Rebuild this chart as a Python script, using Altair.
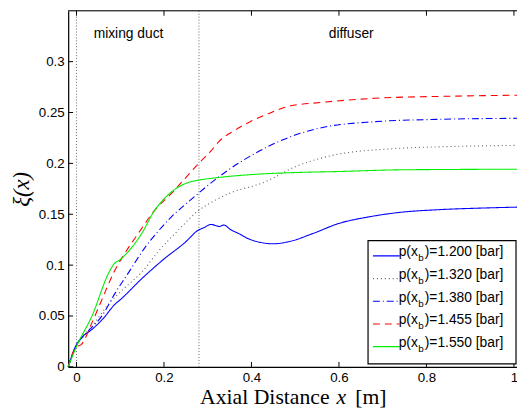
import altair as alt
import pandas as pd

# ---------------- data ----------------
pressures = ["1.200", "1.320", "1.380", "1.455", "1.550"]
colors = ["#0000ff", "#606060", "#0000ff", "#ff0000", "#00ee00"]
dashes = [[1, 0], [1, 3], [7, 3, 1, 3], [7, 5], [1, 0]]

x_1200 = [-0.019, 0.0, 0.01, 0.036, 0.06, 0.089, 0.1, 0.15, 0.2, 0.25, 0.277, 0.292, 0.307, 0.318,
          0.326, 0.337, 0.352, 0.371, 0.39, 0.412, 0.45, 0.487, 0.54, 0.6, 0.668, 0.728, 0.833, 0.92, 1.007]
y_1200 = [0.0, 0.022, 0.028, 0.037, 0.047, 0.062, 0.066, 0.087, 0.106, 0.123, 0.134, 0.137, 0.140, 0.139,
          0.138, 0.1394, 0.135, 0.131, 0.1265, 0.1232, 0.121, 0.1232, 0.131, 0.141, 0.1474, 0.1513, 0.1546, 0.156, 0.157]

x_1320 = [-0.019, 0.0, 0.036, 0.074, 0.111, 0.149, 0.186, 0.232, 0.277, 0.314, 0.352, 0.427, 0.502,
          0.592, 0.727, 0.85, 1.007]
y_1320 = [0.0, 0.021, 0.04, 0.062, 0.078, 0.093, 0.113, 0.134, 0.153, 0.163, 0.171, 0.181, 0.197,
          0.2085, 0.2145, 0.2165, 0.2177]

x_1380 = [-0.019, 0.0, 0.02, 0.059, 0.089, 0.119, 0.156, 0.186, 0.216, 0.247, 0.277, 0.314, 0.344,
          0.404, 0.472, 0.555, 0.682, 0.8, 1.007]
y_1380 = [0.0, 0.021, 0.032, 0.0506, 0.073, 0.0926, 0.117, 0.133, 0.147, 0.159, 0.17, 0.183, 0.1926,
          0.2088, 0.2233, 0.2346, 0.241, 0.243, 0.2443]

x_1455 = [-0.019, 0.0, 0.01, 0.036, 0.059, 0.085, 0.111, 0.141, 0.179, 0.216, 0.254, 0.284, 0.307,
          0.326, 0.36, 0.397, 0.44, 0.48, 0.562, 0.682, 0.85, 1.007]
y_1455 = [0.0, 0.02, 0.0216, 0.044, 0.067, 0.0926, 0.112, 0.131, 0.154, 0.17, 0.188, 0.202, 0.212,
          0.2217, 0.232, 0.241, 0.249, 0.2556, 0.26, 0.264, 0.266, 0.267]

x_1550 = [-0.019, 0.0, 0.036, 0.074, 0.085, 0.1, 0.119, 0.149, 0.179, 0.2, 0.232, 0.262, 0.28, 0.322,
          0.4, 0.5, 0.6, 0.727, 0.85, 1.007]
y_1550 = [0.0, 0.02, 0.0506, 0.0926, 0.1007, 0.1055, 0.1136, 0.131, 0.154, 0.165, 0.1765, 0.182,
          0.1836, 0.186, 0.189, 0.191, 0.192, 0.1936, 0.194, 0.1943]

x_ticks = [0, 0.2, 0.4, 0.6, 0.8, 1]
y_ticks = [0, 0.05, 0.1, 0.15, 0.2, 0.25, 0.3]
region_bounds = [0.0, 0.28]
region_labels = ["mixing duct", "diffuser"]
region_label_x = [0.119, 0.628]
region_label_y = [0.323, 0.323]

series = [(pressures[0], x_1200, y_1200), (pressures[1], x_1320, y_1320),
          (pressures[2], x_1380, y_1380), (pressures[3], x_1455, y_1455),
          (pressures[4], x_1550, y_1550)]
rows = []
for p, xs, ys in series:
    for i, (a, b) in enumerate(zip(xs, ys)):
        rows.append({"p": p, "x": a, "y": b, "order": i})
df = pd.DataFrame(rows)

W, H = 455, 361
SANS = "Liberation Sans"
SERIF = "Liberation Serif"

xscale = alt.Scale(domain=[-0.019, 1.007], nice=False, zero=False)
yscale = alt.Scale(domain=[0, 0.35], nice=False, zero=False)
cscale = alt.Scale(domain=pressures, range=colors)
dscale = alt.Scale(domain=pressures, range=dashes)

xaxis = alt.Axis(values=x_ticks, format="~g", ticks=False, grid=False, labelPadding=4,
                 labelFont=SANS, labelFontSize=13.5, labelColor="black",
                 domainColor="black", domainWidth=1.2)
yaxis = alt.Axis(values=y_ticks, format="~g", ticks=False, grid=False, labelPadding=4,
                 labelFont=SANS, labelFontSize=13.5, labelColor="black",
                 domainColor="black", domainWidth=1.2)

one = pd.DataFrame({"k": [0]})

lines = alt.Chart(df).mark_line(strokeWidth=1.1, interpolate="monotone").encode(
    x=alt.X("x:Q", scale=xscale, axis=xaxis, title=None),
    y=alt.Y("y:Q", scale=yscale, axis=yaxis, title=None),
    color=alt.Color("p:N", scale=cscale, legend=None),
    strokeDash=alt.StrokeDash("p:N", scale=dscale, legend=None),
    order="order:Q",
)

bounds = alt.Chart(pd.DataFrame({"xb": region_bounds})).mark_rule(
    color="#666666", strokeDash=[1, 2], strokeWidth=1).encode(
    x=alt.X("xb:Q", scale=xscale, axis=xaxis, title=None),
    y=alt.value(0), y2=alt.value(H))

region_text = alt.Chart(pd.DataFrame({"lx": region_label_x, "ly": region_label_y, "t": region_labels})).mark_text(
    font=SANS, fontSize=14, baseline="alphabetic", align="center", color="black").encode(
    x=alt.X("lx:Q", scale=xscale, axis=xaxis, title=None),
    y=alt.Y("ly:Q", scale=yscale, axis=yaxis, title=None),
    text="t:N")

tdf_x = pd.DataFrame({"t": x_ticks})
tdf_y = pd.DataFrame({"t": y_ticks})
ticks_bottom = alt.Chart(tdf_x).mark_rule(color="black", strokeWidth=1).encode(
    x=alt.X("t:Q", scale=xscale, axis=xaxis, title=None), y=alt.value(H), y2=alt.value(H - 5))
ticks_top = alt.Chart(tdf_x).mark_rule(color="black", strokeWidth=1).encode(
    x=alt.X("t:Q", scale=xscale, axis=xaxis, title=None), y=alt.value(0), y2=alt.value(5))
ticks_left = alt.Chart(tdf_y).mark_rule(color="black", strokeWidth=1).encode(
    y=alt.Y("t:Q", scale=yscale, axis=yaxis, title=None), x=alt.value(0), x2=alt.value(5))
top_border = alt.Chart(one).mark_rule(color="black", strokeWidth=1.2).encode(
    x=alt.value(0), x2=alt.value(W), y=alt.value(0))

# legend
leg = pd.DataFrame({"p": pressures, "i": list(range(len(pressures)))})
leg_box = alt.Chart(one).mark_rect(fill="white", stroke="black", strokeWidth=1.2).encode(
    x=alt.value(304), x2=alt.value(454), y=alt.value(233), y2=alt.value(358))
leg_lines = alt.Chart(leg).transform_calculate(ly="248.5 + 23*datum.i").mark_rule(strokeWidth=1.1).encode(
    x=alt.value(309), x2=alt.value(336),
    y=alt.Y("ly:Q", scale=None),
    color=alt.Color("p:N", scale=cscale, legend=None),
    strokeDash=alt.StrokeDash("p:N", scale=dscale, legend=None))
leg_t1 = alt.Chart(leg).transform_calculate(ty="249 + 23*datum.i", s="'p(x'").mark_text(
    font=SANS, fontSize=14, align="right", baseline="alphabetic", color="black").encode(
    x=alt.value(354.5), y=alt.Y("ty:Q", scale=None), text="s:N")
leg_t2 = alt.Chart(leg).transform_calculate(ty="254 + 23*datum.i", s="'b'").mark_text(
    font=SANS, fontSize=10, align="left", baseline="alphabetic", color="black").encode(
    x=alt.value(355), y=alt.Y("ty:Q", scale=None), text="s:N")
leg_t3 = alt.Chart(leg).transform_calculate(ty="249 + 23*datum.i",
                                            s="')=' + datum.p + ' [bar]'").mark_text(
    font=SANS, fontSize=14, align="left", baseline="alphabetic", color="black").encode(
    x=alt.value(361.5), y=alt.Y("ty:Q", scale=None), text="s:N")

# axis titles
xt1 = alt.Chart(one).mark_text(text="Axial Distance", font=SERIF, fontSize=22, align="right",
                               baseline="alphabetic", color="black").encode(x=alt.value(265), y=alt.value(399))
xt2 = alt.Chart(one).mark_text(text="x", font=SERIF, fontSize=22, fontStyle="italic", align="center",
                               baseline="alphabetic", color="black").encode(x=alt.value(277), y=alt.value(399))
xt3 = alt.Chart(one).mark_text(text="[m]", font=SERIF, fontSize=22, align="left",
                               baseline="alphabetic", color="black").encode(x=alt.value(291), y=alt.value(399))
yt = alt.Chart(one).mark_text(text="ξ(x)", font=SERIF, fontSize=23, fontStyle="italic", angle=270,
                              align="center", baseline="middle", color="black").encode(
    x=alt.value(-47), y=alt.value(181))

chart = alt.layer(
    bounds, lines, region_text, ticks_bottom, ticks_top, ticks_left, top_border,
    leg_box, leg_lines, leg_t1, leg_t2, leg_t3, xt1, xt2, xt3, yt
).properties(
    width=W, height=H,
    padding={"left": 61, "top": 0, "right": 0, "bottom": 47},
    autosize=alt.AutoSizeParams(type="none"),
).configure_view(strokeWidth=0).configure(background="white")

chart.save("out.html", embed_options={"renderer": "svg", "actions": False})
